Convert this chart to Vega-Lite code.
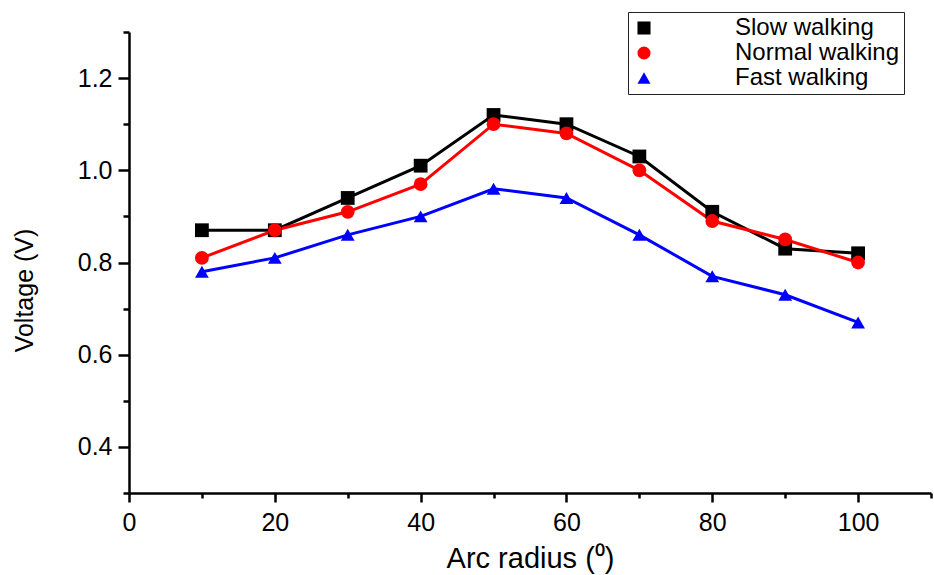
{
  "$schema": "https://vega.github.io/schema/vega-lite/v6.json",
  "width": 802,
  "height": 461,
  "autosize": {"type": "none"},
  "padding": {"left": 129, "top": 32, "right": 3, "bottom": 82},
  "background": "white",
  "config": {
    "view": {"stroke": null},
    "font": "Liberation Sans",
    "axis": {
      "grid": false,
      "domainColor": "black",
      "domainWidth": 2.5,
      "tickColor": "black",
      "tickWidth": 2.5,
      "labelFont": "Liberation Sans",
      "labelFontSize": 25,
      "labelColor": "black",
      "labelFlush": false,
      "labelOverlap": false,
      "titleFont": "Liberation Sans",
      "titleFontWeight": "normal",
      "titleColor": "black"
    }
  },
  "data": {
    "values": [
      {"series": "Slow walking", "radius": 10, "voltage": 0.87},
      {"series": "Slow walking", "radius": 20, "voltage": 0.87},
      {"series": "Slow walking", "radius": 30, "voltage": 0.94},
      {"series": "Slow walking", "radius": 40, "voltage": 1.01},
      {"series": "Slow walking", "radius": 50, "voltage": 1.12},
      {"series": "Slow walking", "radius": 60, "voltage": 1.10},
      {"series": "Slow walking", "radius": 70, "voltage": 1.03},
      {"series": "Slow walking", "radius": 80, "voltage": 0.91},
      {"series": "Slow walking", "radius": 90, "voltage": 0.83},
      {"series": "Slow walking", "radius": 100, "voltage": 0.82},
      {"series": "Normal walking", "radius": 10, "voltage": 0.81},
      {"series": "Normal walking", "radius": 20, "voltage": 0.87},
      {"series": "Normal walking", "radius": 30, "voltage": 0.91},
      {"series": "Normal walking", "radius": 40, "voltage": 0.97},
      {"series": "Normal walking", "radius": 50, "voltage": 1.10},
      {"series": "Normal walking", "radius": 60, "voltage": 1.08},
      {"series": "Normal walking", "radius": 70, "voltage": 1.00},
      {"series": "Normal walking", "radius": 80, "voltage": 0.89},
      {"series": "Normal walking", "radius": 90, "voltage": 0.85},
      {"series": "Normal walking", "radius": 100, "voltage": 0.80},
      {"series": "Fast walking", "radius": 10, "voltage": 0.78},
      {"series": "Fast walking", "radius": 20, "voltage": 0.81},
      {"series": "Fast walking", "radius": 30, "voltage": 0.86},
      {"series": "Fast walking", "radius": 40, "voltage": 0.90},
      {"series": "Fast walking", "radius": 50, "voltage": 0.96},
      {"series": "Fast walking", "radius": 60, "voltage": 0.94},
      {"series": "Fast walking", "radius": 70, "voltage": 0.86},
      {"series": "Fast walking", "radius": 80, "voltage": 0.77},
      {"series": "Fast walking", "radius": 90, "voltage": 0.73},
      {"series": "Fast walking", "radius": 100, "voltage": 0.67}
    ]
  },
  "encoding": {
    "x": {
      "field": "radius",
      "type": "quantitative",
      "scale": {"domain": [0, 110], "nice": false},
      "axis": {
        "title": "Arc radius (⁰)",
        "titleFontSize": 29,
        "titlePadding": 9,
        "values": [0, 10, 20, 30, 40, 50, 60, 70, 80, 90, 100, 110],
        "labelExpr": "datum.value % 20 === 0 ? datum.label : ''",
        "labelPadding": 8,
        "tickSize": {"condition": {"test": "datum.value % 20 === 0", "value": 9}, "value": 5}
      }
    },
    "y": {
      "field": "voltage",
      "type": "quantitative",
      "scale": {"domain": [0.3, 1.3], "nice": false, "zero": false},
      "axis": {
        "title": "Voltage (V)",
        "titleFontSize": 25,
        "titlePadding": 40,
        "titleY": 258,
        "values": [0.3, 0.4, 0.5, 0.6, 0.7, 0.8, 0.9, 1.0, 1.1, 1.2, 1.3],
        "labelExpr": "round(datum.value * 10) % 2 === 0 ? format(datum.value, '.1f') : ''",
        "labelPadding": 6,
        "tickSize": {"condition": {"test": "round(datum.value * 10) % 2 === 0", "value": 11}, "value": 6}
      }
    },
    "color": {
      "field": "series",
      "type": "nominal",
      "scale": {
        "domain": ["Slow walking", "Normal walking", "Fast walking"],
        "range": ["#000000", "#ff0000", "#0000ff"]
      },
      "legend": {
        "title": null,
        "orient": "none",
        "legendX": 499,
        "legendY": -20,
        "direction": "vertical",
        "strokeColor": "#222222",
        "fillColor": "white",
        "padding": 4,
        "rowPadding": 1,
        "symbolSize": 170,
        "symbolStrokeWidth": 0,
        "symbolOpacity": 1,
        "labelFont": "Liberation Sans",
        "labelFontSize": 24,
        "labelColor": "black",
        "labelOffset": 79,
        "labelLimit": 400
      }
    }
  },
  "layer": [
    {
      "mark": {"type": "line", "strokeWidth": 3}
    },
    {
      "mark": {"type": "point", "filled": true, "opacity": 1, "size": 190},
      "encoding": {
        "shape": {
          "field": "series",
          "type": "nominal",
          "scale": {
            "domain": ["Slow walking", "Normal walking", "Fast walking"],
            "range": ["square", "circle", "triangle-up"]
          },
          "legend": null
        }
      }
    }
  ]
}
